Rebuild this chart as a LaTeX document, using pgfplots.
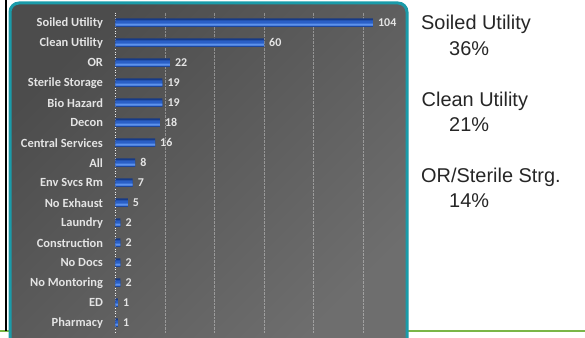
\documentclass[border=0pt]{standalone}
\usepackage{pgfplots}
\pgfplotsset{compat=1.18}
\usepackage{fontspec}
\setmainfont{Carlito}
\newfontfamily\arialf{Liberation Sans}
\definecolor{panelteal}{HTML}{1A9BA9}
\definecolor{linegreen}{HTML}{7AB648}
\definecolor{bgdark}{HTML}{4C4C4C}
\definecolor{bglight}{HTML}{6E6E6E}
\definecolor{barlight}{HTML}{5D92EC}
\definecolor{barmid}{HTML}{2A5FC6}
\definecolor{bardark}{HTML}{173A86}
\definecolor{labelgray}{HTML}{E4E4E4}
\definecolor{righttext}{HTML}{262626}
\pgfplotstableread{
i v
0 104
1 60
2 22
3 19
4 19
5 18
6 16
7 8
8 7
9 5
10 2
11 2
12 2
13 2
14 1
15 1
}\datatable
\begin{document}
\begin{tikzpicture}[x=1bp,y=1bp]
\useasboundingbox (0,0) rectangle (585,337);
\begin{scope}
\clip (0,0) rectangle (585,337);
\draw[color=linegreen, line width=1.5bp] (0,6) -- (585,6);
\draw[black, line width=2bp] (6,337) -- (6,6);
\path[draw=panelteal, line width=3bp, rounded corners=9bp, top color=bgdark, bottom color=bglight, shading angle=45] (10,334) rectangle (407,-12);
\end{scope}
\begin{axis}[
  scale only axis, width=287.3bp, height=320bp,
  at={(115.4bp,4.3bp)}, anchor=south west,
  xmin=0, xmax=116, ymin=-0.5, ymax=15.5, y dir=reverse,
  xbar,
  /pgf/number format/assume math mode=true,
  ytick={0,...,15},
  yticklabels={Soiled Utility,Clean Utility,OR,Sterile Storage,Bio Hazard,Decon,Central Services,All,Env Svcs Rm,No Exhaust,Laundry,Construction,No Docs,No Montoring,ED,Pharmacy},
  yticklabel style={font=\fontsize{12.5}{14}\selectfont\bfseries, color=labelgray, inner sep=0pt, xshift=-8bp},
  xtick={20,40,60,80,100}, xticklabels={\relax,\relax,\relax,\relax,\relax},
  axis line style={draw=none}, tick style={draw=none},
  xmajorgrids, grid style={densely dotted, color=white, opacity=0.35, line width=0.6bp},
  extra x ticks={0}, extra x tick labels={\relax},
  extra x tick style={grid style={dotted, color=white, opacity=0.9, line width=0.9bp}},
  clip=false,
]
\addplot[draw=none, fill=bardark, bar width=8.5bp, bar shift=0pt,
  nodes near coords,
  nodes near coords style={font=\fontsize{12}{14}\selectfont\bfseries, color=labelgray, anchor=west, inner sep=0pt, xshift=5bp},
] table[x=v, y=i] {\datatable};
\addplot[draw=none, fill=barmid, bar width=6bp, bar shift=-0.6bp] table[x=v, y=i] {\datatable};
\addplot[draw=none, fill=barlight, bar width=2bp, bar shift=-2bp] table[x=v, y=i] {\datatable};
\end{axis}
\begin{scope}[every node/.style={anchor=base west, inner sep=0pt, font=\arialf\fontsize{20}{24}\selectfont, text=righttext}]
\node at (421,307.7) {Soiled Utility};
\node at (449,282) {36\%};
\node at (421.5,231) {Clean Utility};
\node at (449,206) {21\%};
\node at (421,154.3) {OR/Sterile Strg.};
\node at (449,129.7) {14\%};
\end{scope}
\end{tikzpicture}
\end{document}
